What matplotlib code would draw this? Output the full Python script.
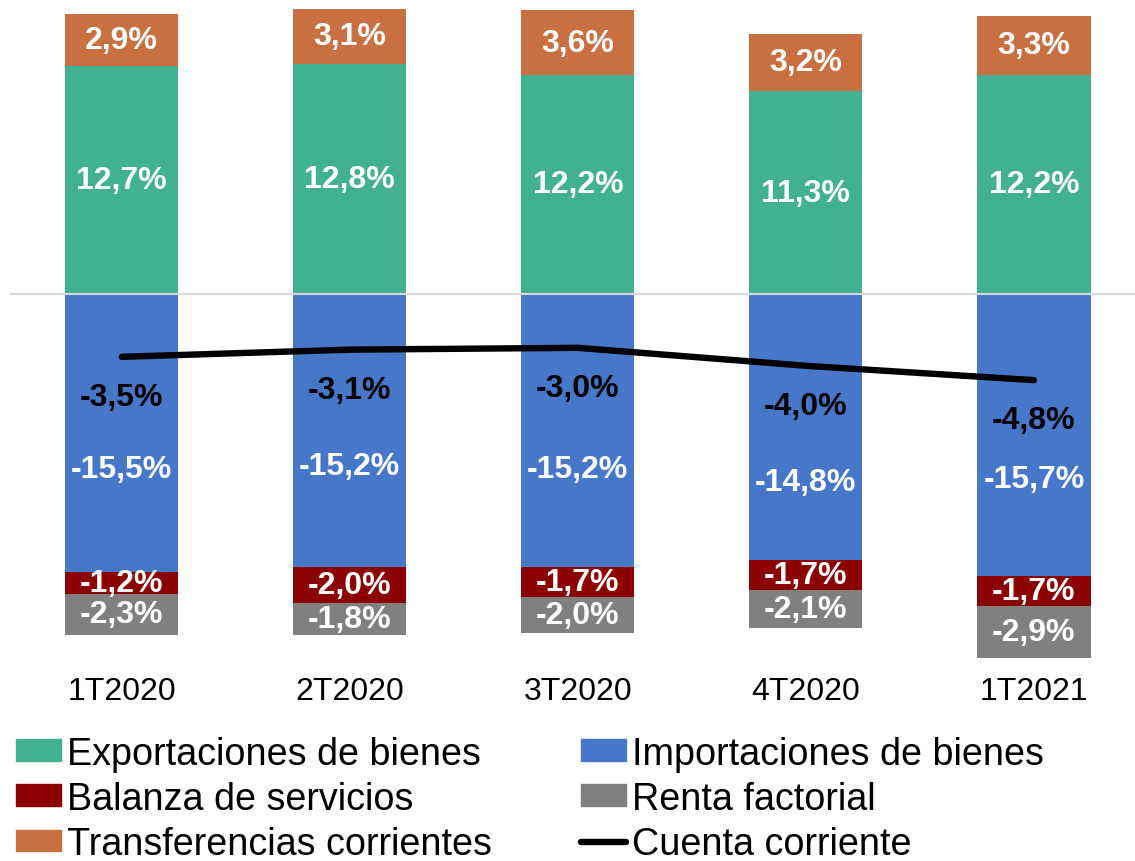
import matplotlib.pyplot as plt
import numpy as np
from matplotlib.patches import Patch
from matplotlib.lines import Line2D

plt.rcParams["font.family"] = ["Liberation Sans", "DejaVu Sans"]

# Datos (% del PIB)
trimestres = ["1T2020", "2T2020", "3T2020", "4T2020", "1T2021"]
exportaciones = [12.7, 12.8, 12.2, 11.3, 12.2]
transferencias = [2.9, 3.1, 3.6, 3.2, 3.3]
importaciones = [-15.5, -15.2, -15.2, -14.8, -15.7]
servicios = [-1.2, -2.0, -1.7, -1.7, -1.7]
renta = [-2.3, -1.8, -2.0, -2.1, -2.9]
cuenta_corriente = [-3.5, -3.1, -3.0, -4.0, -4.8]

# Posición vertical de las etiquetas de importaciones (movidas a mano en el original)
pos_etiq_import = [-9.75, -9.6, -9.75, -10.45, -10.3]

col_export = "#41B18F"
col_import = "#4677C8"
col_serv = "#8B0000"
col_renta = "#808080"
col_transf = "#C87041"


def fmt(v):
    return f"{v:.1f}%".replace(".", ",")


fig = plt.figure(figsize=(11.35, 8.62), dpi=100)
ax = fig.add_axes([10 / 1135, 1 - 665 / 862, 1 - 10 / 1135, 665 / 862])

x = np.arange(len(trimestres))
ancho = 0.496

exportaciones = np.array(exportaciones)
transferencias = np.array(transferencias)
importaciones = np.array(importaciones)
servicios = np.array(servicios)
renta = np.array(renta)

ax.bar(x, exportaciones, ancho, color=col_export)
ax.bar(x, transferencias, ancho, bottom=exportaciones, color=col_transf)
ax.bar(x, importaciones, ancho, color=col_import)
ax.bar(x, servicios, ancho, bottom=importaciones, color=col_serv)
ax.bar(x, renta, ancho, bottom=importaciones + servicios, color=col_renta)

ax.axhline(0, color="#D9D9D9", linewidth=1.5, zorder=1)

ax.plot(x, cuenta_corriente, color="black", linewidth=4.6, solid_capstyle="round", zorder=5)

fs = 23
estilo = dict(ha="center", va="center", fontsize=fs, fontweight="bold", color="white")
for i in range(len(x)):
    ax.text(x[i], exportaciones[i] / 2, fmt(exportaciones[i]), **estilo)
    ax.text(x[i], exportaciones[i] + transferencias[i] / 2, fmt(transferencias[i]), **estilo)
    ax.text(x[i], pos_etiq_import[i], fmt(importaciones[i]), **estilo)
    ax.text(x[i], importaciones[i] + servicios[i] / 2, fmt(servicios[i]), **estilo)
    ax.text(x[i], importaciones[i] + servicios[i] + renta[i] / 2, fmt(renta[i]), **estilo)
    ax.annotate(fmt(cuenta_corriente[i]), (x[i], cuenta_corriente[i]), xytext=(0, -29),
                textcoords="offset points", ha="center", va="center", fontsize=fs,
                fontweight="bold", color="black", zorder=6)

ax.set_xlim(-0.49, 4.443)
ax.set_ylim(-20.61, 16.43)
ax.set_xticks(x)
ax.set_xticklabels(trimestres, fontsize=23)
ax.tick_params(axis="x", length=0, pad=9)
ax.set_yticks([])
for s in ax.spines.values():
    s.set_visible(False)

handles = [
    Patch(color=col_export, label="Exportaciones de bienes"),
    Patch(color=col_serv, label="Balanza de servicios"),
    Patch(color=col_transf, label="Transferencias corrientes"),
    Patch(color=col_import, label="Importaciones de bienes"),
    Patch(color=col_renta, label="Renta factorial"),
    Line2D([0], [0], color="black", linewidth=4.6, solid_capstyle="round", label="Cuenta corriente"),
]
fig.legend(handles=handles, loc="upper left", bbox_to_anchor=(0.0074, 1 - 729 / 862), ncol=2,
           frameon=False, fontsize=27.2, handlelength=1.19, handleheight=0.5,
           handletextpad=0.16, columnspacing=2.35, labelspacing=0.24, borderpad=0.2,
           borderaxespad=0)

fig.savefig("out.png", dpi=100)
